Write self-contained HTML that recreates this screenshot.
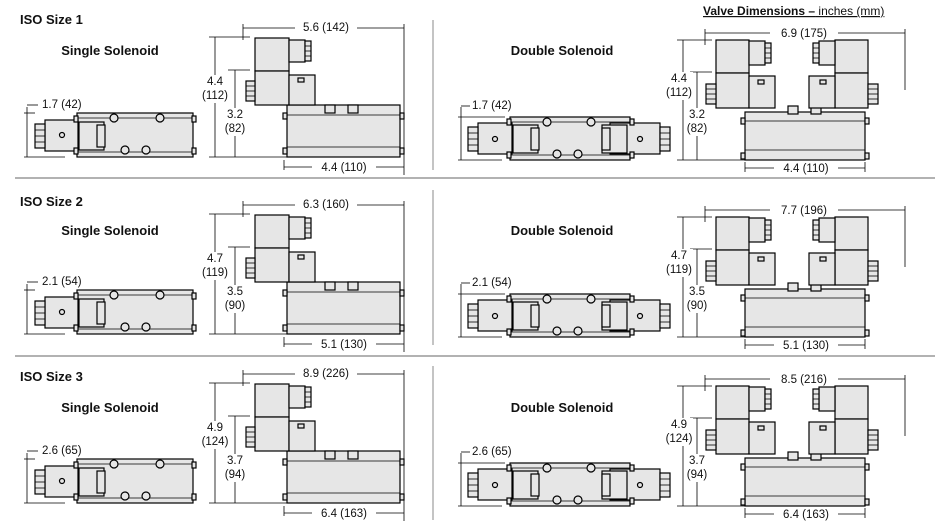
<!DOCTYPE html>
<html><head><meta charset="utf-8"><style>
body{margin:0;background:#fff;}
svg{display:block;font-family:"Liberation Sans",Arial,sans-serif;}
.b{fill:#e6e6e6;stroke:#000;stroke-width:1.2}
.d{stroke:#000;stroke-width:0.8;fill:none}
.t{font-size:11.5px;fill:#111}
.h{font-size:13px;font-weight:bold;fill:#111}
</style></head><body>
<svg id="s" width="952" height="523" viewBox="0 0 952 523" xmlns="http://www.w3.org/2000/svg">
<text x="20" y="24" class="h">ISO Size 1</text>
<text x="20" y="206" class="h">ISO Size 2</text>
<text x="20" y="381" class="h">ISO Size 3</text>
<text x="703" y="15" style="font-size:12px;fill:#111;text-decoration:underline"><tspan font-weight="bold">Valve Dimensions –</tspan> inches (mm)</text>
<line x1="15" y1="178" x2="935" y2="178" stroke="#999" stroke-width="1.5"/>
<line x1="15" y1="356" x2="935" y2="356" stroke="#999" stroke-width="1.5"/>
<line x1="433" y1="20" x2="433" y2="170" stroke="#888"/>
<line x1="433" y1="190" x2="433" y2="345" stroke="#888"/>
<line x1="433" y1="366" x2="433" y2="520" stroke="#888"/>
</svg>
<script>
var s=document.getElementById('s'),NS='http://www.w3.org/2000/svg';
function el(n,a,t){var e=document.createElementNS(NS,n);for(var k in a)e.setAttribute(k,a[k]);if(t)e.textContent=t;s.appendChild(e);return e;}
function R(x,y,w,h,dy){el('rect',{x:x,y:y+dy,width:w,height:h,'class':'b'});}
function W(x,y,w,h,dy){el('rect',{x:x,y:y+dy,width:w,height:h,fill:'#fff'});}
function L(x1,y1,x2,y2,dy){el('line',{x1:x1,y1:y1+dy,x2:x2,y2:y2+dy,'class':'d'});}
function T(x,y,t,dy,anc){el('text',{x:x,y:y+dy,'class':'t','text-anchor':anc||'middle'},t);}
function C(x,y,r,dy){el('circle',{cx:x,cy:y+dy,r:r,'class':'b'});}
function conn(x,y,w,h,dy){R(x,y,w,h,dy);for(var i=1;i<4;i++)L(x,y+i*h/4,x+w,y+i*h/4,dy);}
function row(dy,hy,lab){
 el('text',{x:110,y:55+hy,'class':'h','text-anchor':'middle'},'Single Solenoid');
 el('text',{x:562,y:55+hy,'class':'h','text-anchor':'middle'},'Double Solenoid');
 // single top view
 R(77,113,116,44,dy);L(77,118,193,118,dy);L(77,152,193,152,dy);
 R(45,120,33,31,dy);conn(35,124,10,24,dy);C(62,135,2.5,dy);
 R(79,122,25,28,dy);R(97,125,8,22,dy);
 C(114,118,4,dy);C(160,118,4,dy);C(125,150,4,dy);C(146,150,4,dy);
 R(74,116,4,6,dy);R(74,148,4,6,dy);R(192,116,4,6,dy);R(192,148,4,6,dy);
 L(27,107,27,157,dy);L(27,105,38,105,dy);T(42,108,lab[0],dy,'start');L(24,113,35,113,dy);L(24,157,65,157,dy);
 // single side view
 R(287,105,113,52,dy);L(287,115,400,115,dy);L(287,147,400,147,dy);
 R(283,113,4,6,dy);R(283,148,4,6,dy);R(400,113,4,6,dy);R(400,148,4,6,dy);
 R(325,105,10,8,dy);R(348,105,10,8,dy);
 R(255,38,34,33,dy);R(289,40,16,22,dy);conn(305,41,6,20,dy);
 R(255,71,34,34,dy);R(289,75,26,30,dy);R(298,78,6,4,dy);conn(246,81,9,20,dy);
 L(243,28,404,28,dy);L(243,24,243,40,dy);L(404,24,404,175,dy);
 W(295,20,62,14,dy);T(326,31,lab[1],dy);
 L(215,37,215,157,dy);L(209,37,250,37,dy);
 L(235,70,235,157,dy);L(228,70,250,70,dy);
 W(201,75,28,28,dy);T(215,85,lab[2],dy);T(215,99,lab[3],dy);
 W(222,108,26,28,dy);T(235,118,lab[4],dy);T(235,132,lab[5],dy);
 L(209,157,287,157,dy);
 L(284,160,284,170,dy);L(284,167,404,167,dy);
 W(312,160,64,13,dy);T(344,171,lab[6],dy);
 // double top view
 R(510,117,120,43,dy);L(510,122,630,122,dy);L(510,155,630,155,dy);
 R(478,123,34,31,dy);conn(468,127,10,24,dy);C(495,139,2.5,dy);
 R(610,123,50,31,dy);conn(660,127,10,24,dy);C(640,139,2.5,dy);
 R(513,125,25,28,dy);R(531,128,8,22,dy);R(602,125,25,28,dy);R(602,128,8,22,dy);
 C(547,122,4,dy);C(591,122,4,dy);C(557,154,4,dy);C(578,154,4,dy);
 R(507,119,4,6,dy);R(507,152,4,6,dy);R(630,119,4,6,dy);R(630,152,4,6,dy);
 L(461,107,461,160,dy);L(461,106,470,106,dy);T(472,109,lab[0],dy,'start');L(458,117,505,117,dy);L(458,160,502,160,dy);
 // double side view
 R(745,112,120,48,dy);L(745,121,865,121,dy);L(745,150,865,150,dy);
 R(741,118,4,6,dy);R(741,153,4,6,dy);R(865,118,4,6,dy);R(865,153,4,6,dy);
 R(788,106,10,8,dy);R(811,106,10,8,dy);
 R(716,40,33,33,dy);R(749,41,16,24,dy);conn(765,43,6,20,dy);
 R(716,73,33,35,dy);R(749,76,26,32,dy);R(758,80,6,4,dy);conn(706,84,10,20,dy);
 R(835,40,33,33,dy);R(819,41,16,24,dy);conn(813,43,6,20,dy);
 R(835,73,33,35,dy);R(809,76,26,32,dy);R(820,80,6,4,dy);conn(868,84,10,20,dy);
 L(705,33,905,33,dy);L(705,29,705,45,dy);L(905,29,905,90,dy);
 W(770,25,68,14,dy);T(804,37,lab[7],dy);
 L(683,40,683,160,dy);L(677,40,712,40,dy);
 L(697,72,697,160,dy);L(690,72,712,72,dy);
 W(665,72,28,28,dy);T(679,82,lab[2],dy);T(679,96,lab[3],dy);
 W(684,108,26,28,dy);T(697,118,lab[4],dy);T(697,132,lab[5],dy);
 L(677,160,745,160,dy);
 L(745,162,745,172,dy);L(865,162,865,172,dy);L(745,168,865,168,dy);
 W(774,161,64,13,dy);T(806,172,lab[6],dy);
}
row(0,0,['1.7 (42)','5.6 (142)','4.4','(112)','3.2','(82)','4.4 (110)','6.9 (175)']);
row(177,180,['2.1 (54)','6.3 (160)','4.7','(119)','3.5','(90)','5.1 (130)','7.7 (196)']);
row(346,357,['2.6 (65)','8.9 (226)','4.9','(124)','3.7','(94)','6.4 (163)','8.5 (216)']);
</script>
</body></html>
